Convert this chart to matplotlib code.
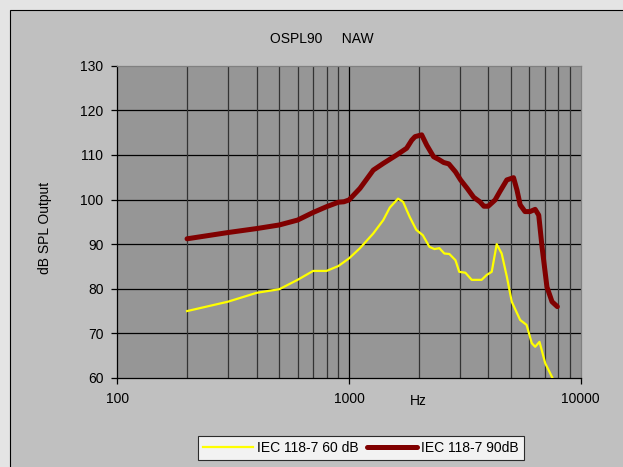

# OSPL90 chart for NAW - output vs frequency, two input levels

import matplotlib.pyplot as plt
from matplotlib.patches import Rectangle
from matplotlib.ticker import FixedLocator, NullFormatter

plt.rcParams['font.family'] = ['Liberation Sans', 'DejaVu Sans']

# IEC 118-7 90 dB input
freq_90 = [200, 300, 400, 500, 600, 700, 800, 900, 950, 1000, 1115, 1273,
           1406, 1607, 1773, 1865, 1928, 2059, 2165, 2317, 2438, 2563, 2694,
           2881, 3030, 3237, 3453, 3669, 3821, 3987, 4270, 4480, 4800, 5130,
           5310, 5480, 5750, 6040, 6360, 6590, 6810, 7150, 7520, 7930]
spl_90 = [91.2, 92.6, 93.5, 94.3, 95.4, 97.1, 98.4, 99.4, 99.5, 99.9, 102.5,
          106.6, 108.1, 110.0, 111.5, 113.3, 114.1, 114.5, 112.2, 109.6, 109.0,
          108.3, 108.0, 106.2, 104.4, 102.5, 100.5, 99.5, 98.5, 98.5, 99.9,
          101.8, 104.4, 104.9, 102.1, 98.8, 97.3, 97.3, 97.8, 96.5, 89.4, 80.4,
          77.1, 76.0]

# IEC 118-7 60 dB input
freq_60 = [200, 300, 400, 500, 600, 700, 800, 900, 1000, 1115, 1273, 1406,
           1500, 1628, 1711, 1828, 1952, 2083, 2224, 2337, 2455, 2580, 2711,
           2881, 2990, 3178, 3385, 3735, 3930, 4130, 4340, 4560, 4800, 5040,
           5480, 5840, 6150, 6360, 6640, 7030, 7570]
spl_60 = [75.0, 77.1, 79.1, 79.9, 82.0, 84.0, 84.0, 85.1, 86.8, 89.1, 92.4,
          95.4, 98.2, 100.2, 99.5, 96.1, 93.2, 92.0, 89.4, 88.9, 89.1, 87.9,
          87.8, 86.4, 83.8, 83.6, 82.0, 82.0, 83.1, 83.8, 90.0, 87.9, 82.7,
          77.1, 73.0, 71.9, 67.8, 67.0, 68.1, 63.3, 59.9]

yticks = [60, 70, 80, 90, 100, 110, 120, 130]
xticks = [100, 1000, 10000]
minor_x = [200, 300, 400, 500, 600, 700, 800, 900,
           2000, 3000, 4000, 5000, 6000, 7000, 8000, 9000]

W, H = 623, 467
fs = 10
fig = plt.figure(figsize=(W / 100, H / 100), dpi=100)
fig.patch.set_facecolor('#E4E4E4')

# chart area box (Excel style)
fig.patches.append(Rectangle((9.5 / W, -0.1), 1.2, 1.1 - 9.5 / H,
                             transform=fig.transFigure, facecolor='#C0C0C0',
                             edgecolor='#000000', linewidth=0.8, zorder=-5))

ax = fig.add_axes([117.3 / W, 1 - 378 / H, 463.4 / W, 312.3 / H])
ax.set_zorder(2)
ax.set_facecolor('#969696')
ax.set_xscale('log')
ax.set_xlim(100, 10000)
ax.set_ylim(60, 130)

# grid
for y in yticks[1:-1]:
    ax.axhline(y, color='black', linewidth=0.9, zorder=1)
for x in minor_x:
    ax.axvline(x, color='#333333', linewidth=0.9, zorder=1)
ax.axvline(1000, color='black', linewidth=0.9, zorder=1)

ax.plot(freq_60, spl_60, color='#FFFF00', linewidth=1.6,
        label='IEC 118-7 60 dB', zorder=3)
ax.plot(freq_90, spl_90, color='#800000', linewidth=3.6,
        label='IEC 118-7 90dB', zorder=3, solid_capstyle='round')

ax.xaxis.set_major_locator(FixedLocator(xticks))
ax.xaxis.set_minor_locator(FixedLocator([]))
ax.xaxis.set_minor_formatter(NullFormatter())
ax.set_xticklabels([str(x) for x in xticks])
ax.set_yticks(yticks)
ax.tick_params(axis='both', labelsize=fs, length=4, width=0.9,
               color='black', labelcolor='black', direction='out', pad=6)

for side in ['left', 'bottom']:
    ax.spines[side].set_color('black')
    ax.spines[side].set_linewidth(0.9)
for side in ['top', 'right']:
    ax.spines[side].set_color('#808080')
    ax.spines[side].set_linewidth(0.9)

fig.text(321.5 / W, 1 - 39 / H, 'OSPL90     NAW', ha='center', va='center',
         fontsize=fs)
fig.text(45 / W, 1 - 228 / H, 'dB SPL Output', ha='center', va='center',
         rotation=90, fontsize=fs)
fig.text(418 / W, 1 - 401 / H, 'Hz', ha='center', va='center', fontsize=fs)

leg = fig.legend(loc='center', bbox_to_anchor=(361 / W, 1 - 448 / H),
                 ncol=2, fontsize=fs, frameon=True, fancybox=False,
                 handlelength=3.6, handletextpad=0.3, columnspacing=0.6,
                 borderpad=0.35, borderaxespad=0)
leg.get_frame().set_edgecolor('black')
leg.get_frame().set_linewidth(0.8)
leg.get_frame().set_facecolor('white')

fig.savefig('out.png', dpi=100, facecolor=fig.get_facecolor())
